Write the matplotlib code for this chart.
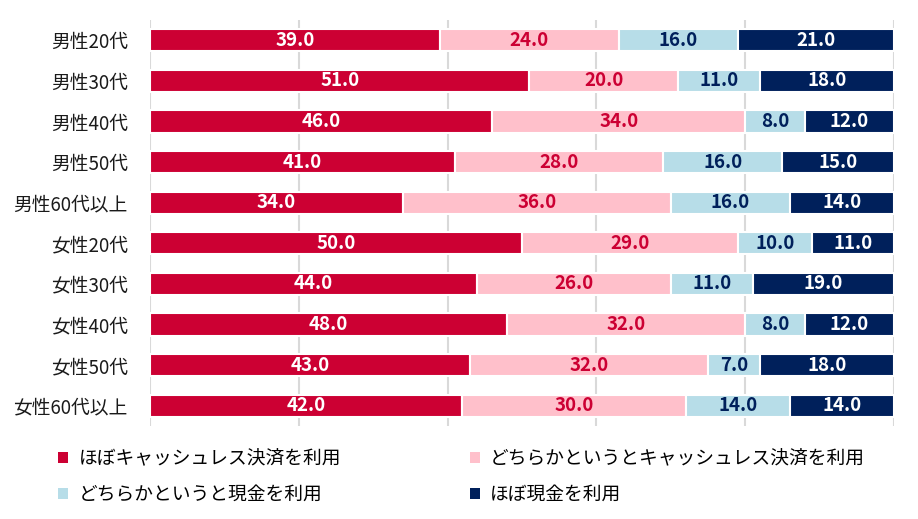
import matplotlib
matplotlib.use("Agg")
import matplotlib.pyplot as plt
from matplotlib.patches import Patch
import numpy as np

plt.rcParams['font.family'] = ['Noto Sans CJK JP', 'DejaVu Sans']

categories = ["男性20代", "男性30代", "男性40代", "男性50代", "男性60代以上",
              "女性20代", "女性30代", "女性40代", "女性50代", "女性60代以上"]
series_names = ["ほぼキャッシュレス決済を利用", "どちらかというとキャッシュレス決済を利用",
                "どちらかというと現金を利用", "ほぼ現金を利用"]
mostly_cashless = [39, 51, 46, 41, 34, 50, 44, 48, 43, 42]
rather_cashless = [24, 20, 34, 28, 36, 29, 26, 32, 32, 30]
rather_cash = [16, 11, 8, 16, 16, 10, 11, 8, 7, 14]
mostly_cash = [21, 18, 12, 15, 14, 11, 19, 12, 18, 14]
xticks = [0, 20, 40, 60, 80, 100]

colors = ['#CC0033', '#FFC0CB', '#B7DDE8', '#00205B']
label_colors = ['white', '#CC0033', '#00205B', 'white']

fig = plt.figure(figsize=(9.18, 5.19), dpi=100)
ax = fig.add_axes([150/918, 1-426/519, (894-150)/918, (426-20)/519])

series = [mostly_cashless, rather_cashless, rather_cash, mostly_cash]
y = np.arange(len(categories))
left = np.zeros(len(categories))
handles = []
for vals, c, lc, name in zip(series, colors, label_colors, series_names):
    vals = np.array(vals, dtype=float)
    ax.barh(y, vals, left=left, height=0.55, color=c, edgecolor='white',
            linewidth=1.5, zorder=2)
    handles.append(Patch(facecolor=c, edgecolor='none'))
    for yi, l, v in zip(y, left, vals):
        ax.text(l + v/2, yi, f"{v:.1f}", ha='center', va='center', color=lc,
                fontsize=13.5, fontweight='bold', zorder=3)
    left += vals

ax.set_xlim(0, 100)
ax.set_ylim(len(categories)-0.5, -0.5)
ax.set_yticks(y)
ax.set_yticklabels(categories, fontsize=13.5, color='#1a1a1a')
ax.set_xticks(xticks)
ax.xaxis.grid(True, color='#d9d9d9', linewidth=1.5, zorder=0)
ax.set_axisbelow(True)
ax.tick_params(axis='both', length=0)
ax.tick_params(axis='x', labelbottom=False)
ax.tick_params(axis='y', pad=16)
for s in ax.spines.values():
    s.set_visible(False)

# row-wise legend order: (s1, s2) on first row, (s3, s4) on second
order = [0, 2, 1, 3]
fig.legend([handles[i] for i in order], [series_names[i] for i in order],
           loc='center left', bbox_to_anchor=(58/918, 1-476.5/519),
           ncol=2, frameon=False, fontsize=13.5, handlelength=0.55, handleheight=0.55,
           handletextpad=0.55, columnspacing=6.85, labelspacing=0.8,
           borderpad=0, borderaxespad=0)

fig.savefig("out.png", dpi=100)
